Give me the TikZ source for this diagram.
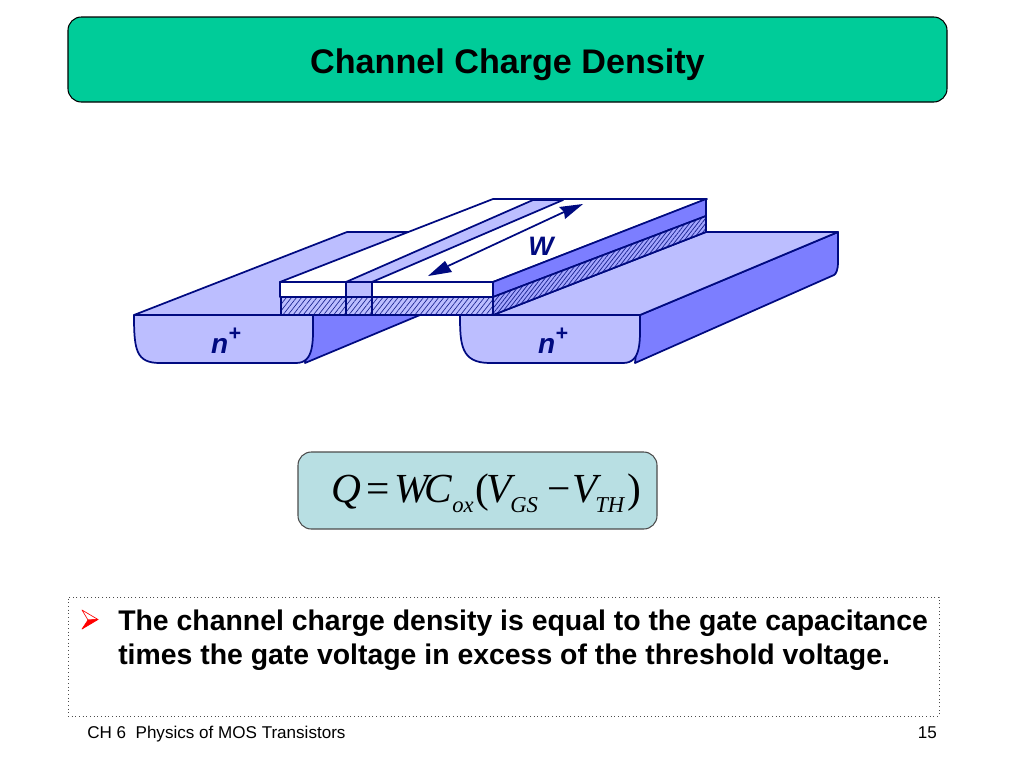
\documentclass[tikz,border=0pt]{standalone}
\usepackage{fontspec}
\setmainfont{Liberation Sans}
\newfontfamily\eqfont{Liberation Serif}
\usetikzlibrary{patterns.meta}
\definecolor{navyline}{HTML}{000A80}
\definecolor{hatchline}{HTML}{1A2490}
\definecolor{lightblock}{HTML}{BCBEFF}
\definecolor{midblock}{HTML}{A4A6FF}
\definecolor{darkblock}{HTML}{7C7EFF}
\definecolor{titlefill}{HTML}{00CC99}
\definecolor{eqfill}{HTML}{B8DFE3}
\tikzset{
  lightface/.style={fill=lightblock,draw=navyline,line width=1.3pt,line join=round},
  darkface/.style={fill=darkblock,draw=navyline,line width=1.3pt,line join=round},
  whiteface/.style={fill=white,draw=navyline,line width=1.3pt,line join=round},
  edge line/.style={draw=navyline,line width=1.3pt,line join=round},
  dopelabel/.style={font=\fontsize{21}{21}\selectfont\bfseries\itshape,text=navyline,inner sep=0pt},
  eqtext/.style={anchor=base west,inner sep=0pt,font=\fontsize{31}{31}\selectfont\eqfont\itshape},
  eqsub/.style={anchor=base west,inner sep=0pt,font=\fontsize{17}{17}\selectfont\eqfont\itshape},
  eqsym/.style={anchor=base west,inner sep=0pt,font=\fontsize{31}{31}\selectfont\eqfont},
  bodytext/.style={anchor=base west,inner sep=0pt,font=\fontsize{21.3}{21.3}\selectfont\bfseries},
  foottext/.style={inner sep=0pt,font=\fontsize{12.8}{12.8}\selectfont},
}
\begin{document}
\begin{tikzpicture}[x=0.75pt,y=-0.75pt]
\useasboundingbox (0,0) rectangle (1024,768);
\fill[white] (0,0) rectangle (1024,768);
% title
\node[draw=black,line width=.8pt,fill=titlefill,rounded corners=10pt,minimum width=879*0.75pt,minimum height=85*0.75pt,inner sep=0pt] (title) at (507.5,59.5) {};
\node[anchor=base,inner sep=0pt,font=\fontsize{25.6}{25.6}\selectfont\bfseries] (titletext) at (507.5,73) {Channel Charge Density};
% left n+ block
\draw[darkface] (313,315) -- (420,315) -- (305,363) -- cycle;
\draw[lightface] (134,315) -- (347,232) -- (408,232) -- (300,282) -- (300,315) -- cycle;
\draw[lightface] (134,315) -- (313,315) .. controls (313,340) and (315,363) .. (296,363) -- (160,363) .. controls (136,363) and (134,350) .. (134,315) -- cycle;
% right n+ block
\draw[darkface] (640,315) -- (838,232) -- (838,262) .. controls (838,270) and (836,274) .. (834,275) -- (635,363) -- cycle;
\draw[lightface] (493,315) -- (706,232) -- (838,232) -- (640,315) -- cycle;
\draw[lightface] (460,315) -- (640,315) .. controls (640,340) and (642,363) .. (623,363) -- (490,363) .. controls (461,363) and (460,345) .. (460,315) -- cycle;
% gate
\fill[lightblock] (281,297) rectangle (493,315);
\path[pattern={Lines[angle=52,distance=3pt,line width=.5pt]},pattern color=hatchline] (281,297) rectangle (493,315);
\draw[edge line] (281,297) rectangle (493,315);
\draw[whiteface] (280,282) -- (493,199) -- (707,199) -- (493,282) -- cycle;
\draw[lightface] (346,282) -- (533,200) -- (563,200) -- (372,282) -- cycle;
\draw[whiteface] (280,282) rectangle (493,297);
\draw[lightface] (346,282) rectangle (372,297);
\draw[edge line] (346,297) -- (346,315) (372,297) -- (372,315);
\draw[darkface] (493,282) -- (706,199) -- (706,216) -- (493,297) -- cycle;
\fill[midblock] (493,297) -- (706,216) -- (706,232) -- (493,315) -- cycle;
\path[pattern={Lines[angle=52,distance=2.4pt,line width=.55pt]},pattern color=hatchline] (493,297) -- (706,216) -- (706,232) -- (493,315) -- cycle;
\draw[edge line] (493,297) -- (706,216) -- (706,232) -- (493,315) -- cycle;
% W arrow
\coordinate (wa) at (428,276);
\coordinate (wb) at (583,204);
\draw[navyline,line width=1.3pt] (448,266) -- (564,212);
\fill[navyline] (wa) -- (445,261) -- (448,266) -- (452,272) -- cycle;
\fill[navyline] (wb) -- (559,207) -- (564,212) -- (565,219) -- cycle;
\node[dopelabel,font=\fontsize{20}{20}\selectfont\bfseries\itshape] (wlabel) at (541,246) {W};
\node[dopelabel] (nleft) at (226,341) {n\raisebox{.45em}{\fontsize{16}{16}\selectfont +}};
\node[dopelabel] (nright) at (553,341) {n\raisebox{.45em}{\fontsize{16}{16}\selectfont +}};
% equation
\node[draw=black!70,line width=.8pt,fill=eqfill,rounded corners=10pt,minimum width=359*0.75pt,minimum height=77*0.75pt,inner sep=0pt] (eqbox) at (477.5,490.5) {};
\node[eqtext] (eqQ) at (331,502) {Q};
\node[eqsym] (eqE) at (366,502) {=};
\node[eqtext] (eqW) at (394,502) {W\kern-3pt C};
\node[eqsub] (eqox) at (452,512) {ox};
\node[eqsym] (eqL) at (475,502) {(};
\node[eqtext] (eqV) at (486,502) {V};
\node[eqsub] (eqGS) at (510,512) {GS};
\node[eqsym] (eqM) at (547,502) {\char"2212};
\node[eqtext] (eqVb) at (572,502) {V};
\node[eqsub] (eqTH) at (595,512) {TH};
\node[eqsym] (eqR) at (627,502) {)};
% bullet box
\node[draw=black!70,dotted,line width=.75pt,minimum width=871*0.75pt,minimum height=119*0.75pt,inner sep=0pt] (bulletbox) at (503.5,656.5) {};
\fill[white] (82,610) -- (98,619.5) -- (88,620) -- cycle;
\draw[red,line width=.5pt,line join=round] (82,610) -- (98,619.5) -- (88,620) -- cycle;
\fill[red,draw=red,line width=.5pt,line join=round] (82,629) -- (98,619.5) -- (88,620) -- cycle;
\node[bodytext] (line1) at (118,630) {The channel charge density is equal to the gate capacitance};
\node[bodytext] (line2) at (118,664) {times the gate voltage in excess of the threshold voltage.};
% footer
\node[foottext,anchor=base west] (footl) at (87,738) {CH 6\ \ Physics of MOS Transistors};
\node[foottext,anchor=base east] (footr) at (937,738) {15};
\end{tikzpicture}
\end{document}
